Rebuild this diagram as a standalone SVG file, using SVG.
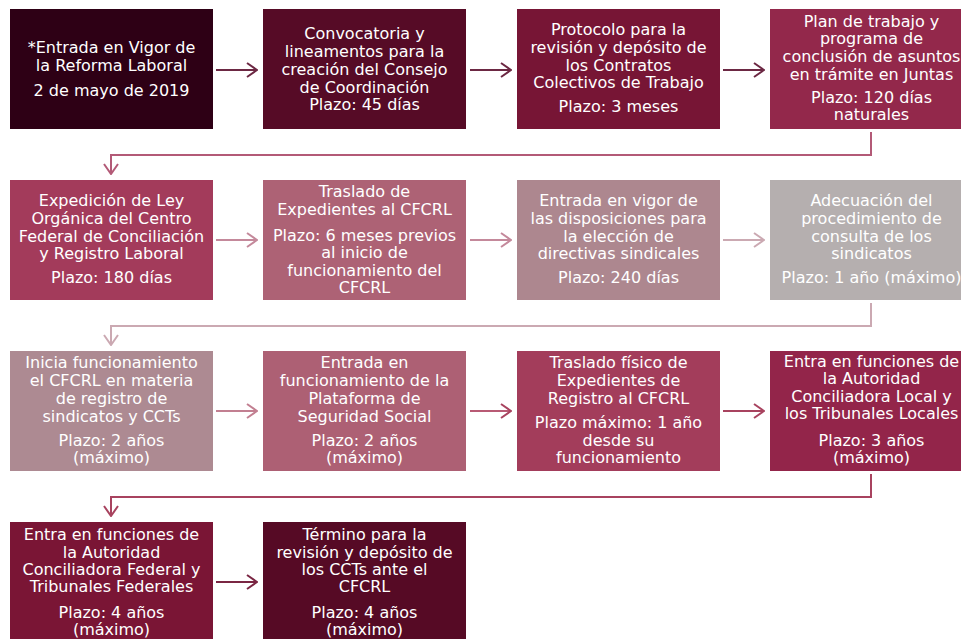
<svg xmlns="http://www.w3.org/2000/svg" width="961" height="639" viewBox="0 0 961 639">
<style>
.box{stroke:none}
.t{font-family:"DejaVu Sans","Verdana",sans-serif;font-size:16px;fill:#ffffff;text-anchor:middle}
.c{fill:none;stroke-width:2}
</style>
<defs>
<marker id="m1" markerUnits="userSpaceOnUse" viewBox="0 0 12 16" refX="11" refY="8" markerWidth="12" markerHeight="16" orient="auto"><path d="M1,1 L11,8 L1,15" fill="none" stroke="#6c2843" stroke-width="2"/></marker>
<marker id="m2" markerUnits="userSpaceOnUse" viewBox="0 0 12 16" refX="11" refY="8" markerWidth="12" markerHeight="16" orient="auto"><path d="M1,1 L11,8 L1,15" fill="none" stroke="#b35a77" stroke-width="2"/></marker>
<marker id="m3" markerUnits="userSpaceOnUse" viewBox="0 0 12 16" refX="11" refY="8" markerWidth="12" markerHeight="16" orient="auto"><path d="M1,1 L11,8 L1,15" fill="none" stroke="#c4899b" stroke-width="2"/></marker>
<marker id="m4" markerUnits="userSpaceOnUse" viewBox="0 0 12 16" refX="11" refY="8" markerWidth="12" markerHeight="16" orient="auto"><path d="M1,1 L11,8 L1,15" fill="none" stroke="#cba9b2" stroke-width="2"/></marker>
<marker id="m5" markerUnits="userSpaceOnUse" viewBox="0 0 12 16" refX="11" refY="8" markerWidth="12" markerHeight="16" orient="auto"><path d="M1,1 L11,8 L1,15" fill="none" stroke="#c27f91" stroke-width="2"/></marker>
<marker id="m6" markerUnits="userSpaceOnUse" viewBox="0 0 12 16" refX="11" refY="8" markerWidth="12" markerHeight="16" orient="auto"><path d="M1,1 L11,8 L1,15" fill="none" stroke="#a8435f" stroke-width="2"/></marker>
<marker id="m7" markerUnits="userSpaceOnUse" viewBox="0 0 12 16" refX="11" refY="8" markerWidth="12" markerHeight="16" orient="auto"><path d="M1,1 L11,8 L1,15" fill="none" stroke="#7a2643" stroke-width="2"/></marker>
</defs>
<rect width="961" height="639" fill="#ffffff"/>

<g id="connectors">
<path class="c" d="M216,70 H257" stroke="#6c2843" marker-end="url(#m1)"/>
<path class="c" d="M470,70 H511" stroke="#6c2843" marker-end="url(#m1)"/>
<path class="c" d="M723,70 H764" stroke="#6c2843" marker-end="url(#m1)"/>
<path class="c" d="M871,132 V155 H111 V174" stroke="#b35a77" marker-end="url(#m2)"/>
<path class="c" d="M216,240 H257" stroke="#c4899b" marker-end="url(#m3)"/>
<path class="c" d="M470,240 H511" stroke="#c4899b" marker-end="url(#m3)"/>
<path class="c" d="M723,240 H764" stroke="#cba9b2" marker-end="url(#m4)"/>
<path class="c" d="M871,303 V326 H111 V345" stroke="#cba9b2" marker-end="url(#m4)"/>
<path class="c" d="M216,411 H257" stroke="#c27f91" marker-end="url(#m5)"/>
<path class="c" d="M470,411 H511" stroke="#b85a74" marker-end="url(#m6)"/>
<path class="c" d="M723,411 H764" stroke="#a8435f" marker-end="url(#m6)"/>
<path class="c" d="M871,474 V497 H111 V516" stroke="#a8435f" marker-end="url(#m6)"/>
<path class="c" d="M216,582 H257" stroke="#7a2643" marker-end="url(#m7)"/>
</g>

<g id="n1"><rect class="box" x="10" y="9" width="203" height="120" fill="#2e0015"/>
<text class="t"><tspan x="111.5" y="53">*Entrada en Vigor de</tspan><tspan x="111.5" y="71">la Reforma Laboral</tspan><tspan x="111.5" y="96">2 de mayo de 2019</tspan></text></g>

<g id="n2"><rect class="box" x="263" y="9" width="203" height="120" fill="#560b26"/>
<text class="t"><tspan x="364.5" y="39">Convocatoria y</tspan><tspan x="364.5" y="57">lineamentos para la</tspan><tspan x="364.5" y="75">creación del Consejo</tspan><tspan x="364.5" y="93">de Coordinación</tspan><tspan x="364.5" y="110">Plazo: 45 días</tspan></text></g>

<g id="n3"><rect class="box" x="517" y="9" width="203" height="120" fill="#771535"/>
<text class="t"><tspan x="618.5" y="35">Protocolo para la</tspan><tspan x="618.5" y="53">revisión y depósito de</tspan><tspan x="618.5" y="71">los Contratos</tspan><tspan x="618.5" y="88">Colectivos de Trabajo</tspan><tspan x="618.5" y="112">Plazo: 3 meses</tspan></text></g>

<g id="n4"><rect class="box" x="770" y="9" width="203" height="120" fill="#93284b"/>
<text class="t"><tspan x="871.5" y="27">Plan de trabajo y</tspan><tspan x="871.5" y="44">programa de</tspan><tspan x="871.5" y="62">conclusión de asuntos</tspan><tspan x="871.5" y="80">en trámite en Juntas</tspan><tspan x="871.5" y="103">Plazo: 120 días</tspan><tspan x="871.5" y="120">naturales</tspan></text></g>

<g id="n5"><rect class="box" x="10" y="180" width="203" height="120" fill="#a33b5b"/>
<text class="t"><tspan x="111.5" y="206">Expedición de Ley</tspan><tspan x="111.5" y="224">Orgánica del Centro</tspan><tspan x="111.5" y="242">Federal de Conciliación</tspan><tspan x="111.5" y="259">y Registro Laboral</tspan><tspan x="111.5" y="283">Plazo: 180 días</tspan></text></g>

<g id="n6"><rect class="box" x="263" y="180" width="203" height="120" fill="#ad6275"/>
<text class="t"><tspan x="364.5" y="197">Traslado de</tspan><tspan x="364.5" y="215">Expedientes al CFCRL</tspan><tspan x="364.5" y="241">Plazo: 6 meses previos</tspan><tspan x="364.5" y="258">al inicio de</tspan><tspan x="364.5" y="276">funcionamiento del</tspan><tspan x="364.5" y="293">CFCRL</tspan></text></g>

<g id="n7"><rect class="box" x="517" y="180" width="203" height="120" fill="#ad878f"/>
<text class="t"><tspan x="618.5" y="206">Entrada en vigor de</tspan><tspan x="618.5" y="224">las disposiciones para</tspan><tspan x="618.5" y="242">la elección de</tspan><tspan x="618.5" y="259">directivas sindicales</tspan><tspan x="618.5" y="283">Plazo: 240 días</tspan></text></g>

<g id="n8"><rect class="box" x="770" y="180" width="203" height="120" fill="#b5afaf"/>
<text class="t"><tspan x="871.5" y="206">Adecuación del</tspan><tspan x="871.5" y="224">procedimiento de</tspan><tspan x="871.5" y="242">consulta de los</tspan><tspan x="871.5" y="259">sindicatos</tspan><tspan x="871.5" y="283">Plazo: 1 año (máximo)</tspan></text></g>

<g id="n9"><rect class="box" x="10" y="351" width="203" height="120" fill="#ad8a92"/>
<text class="t"><tspan x="111.5" y="368">Inicia funcionamiento</tspan><tspan x="111.5" y="386">el CFCRL en materia</tspan><tspan x="111.5" y="404">de registro de</tspan><tspan x="111.5" y="422">sindicatos y CCTs</tspan><tspan x="111.5" y="446">Plazo: 2 años</tspan><tspan x="111.5" y="463">(máximo)</tspan></text></g>

<g id="n10"><rect class="box" x="263" y="351" width="203" height="120" fill="#ad6074"/>
<text class="t"><tspan x="364.5" y="368">Entrada en</tspan><tspan x="364.5" y="386">funcionamiento de la</tspan><tspan x="364.5" y="404">Plataforma de</tspan><tspan x="364.5" y="422">Seguridad Social</tspan><tspan x="364.5" y="446">Plazo: 2 años</tspan><tspan x="364.5" y="463">(máximo)</tspan></text></g>

<g id="n11"><rect class="box" x="517" y="351" width="203" height="120" fill="#a33d5b"/>
<text class="t"><tspan x="618.5" y="368">Traslado físico de</tspan><tspan x="618.5" y="386">Expedientes de</tspan><tspan x="618.5" y="404">Registro al CFCRL</tspan><tspan x="618.5" y="428">Plazo máximo: 1 año</tspan><tspan x="618.5" y="446">desde su</tspan><tspan x="618.5" y="463">funcionamiento</tspan></text></g>

<g id="n12"><rect class="box" x="770" y="351" width="203" height="120" fill="#93254a"/>
<text class="t"><tspan x="871.5" y="367">Entra en funciones de</tspan><tspan x="871.5" y="384">la Autoridad</tspan><tspan x="871.5" y="402">Conciliadora Local y</tspan><tspan x="871.5" y="419">los Tribunales Locales</tspan><tspan x="871.5" y="446">Plazo: 3 años</tspan><tspan x="871.5" y="463">(máximo)</tspan></text></g>

<g id="n13"><rect class="box" x="10" y="522" width="203" height="120" fill="#7a1535"/>
<text class="t"><tspan x="111.5" y="540">Entra en funciones de</tspan><tspan x="111.5" y="558">la Autoridad</tspan><tspan x="111.5" y="575">Conciliadora Federal y</tspan><tspan x="111.5" y="592">Tribunales Federales</tspan><tspan x="111.5" y="618">Plazo: 4 años</tspan><tspan x="111.5" y="635">(máximo)</tspan></text></g>

<g id="n14"><rect class="box" x="263" y="522" width="203" height="120" fill="#560a25"/>
<text class="t"><tspan x="364.5" y="540">Término para la</tspan><tspan x="364.5" y="558">revisión y depósito de</tspan><tspan x="364.5" y="575">los CCTs ante el</tspan><tspan x="364.5" y="592">CFCRL</tspan><tspan x="364.5" y="618">Plazo: 4 años</tspan><tspan x="364.5" y="635">(máximo)</tspan></text></g>
</svg>
